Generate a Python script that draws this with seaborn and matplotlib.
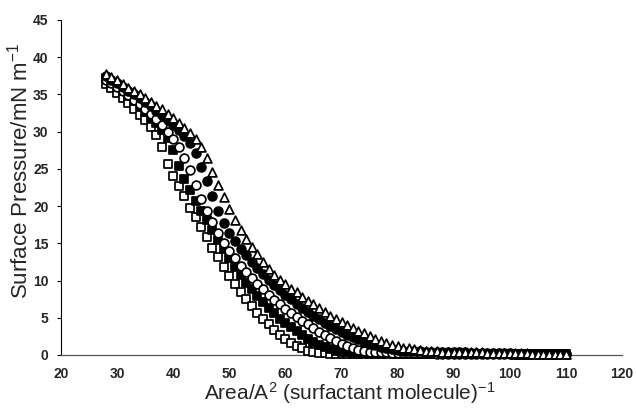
import matplotlib
matplotlib.use("Agg")
import matplotlib.pyplot as plt
import seaborn as sns
import pandas as pd

# ---- data ----
area = [28, 29, 30, 31, 32, 33, 34, 35, 36, 37, 38, 39, 40, 41, 42, 43, 44, 45, 46, 47,
        48, 49, 50, 51, 52, 53, 54, 55, 56, 57, 58, 59, 60, 61, 62, 63, 64, 65, 66, 67,
        68, 69, 70, 71, 72, 73, 74, 75, 76, 77, 78, 79, 80, 81, 82, 83, 84, 85, 86, 87,
        88, 89, 90, 91, 92, 93, 94, 95, 96, 97, 98, 99, 100, 101, 102, 103, 104, 105, 106, 107,
        108, 109, 110]

open_squares = [36.4, 35.8, 35.2, 34.5, 33.8, 33.1, 32.3, 31.5, 30.6, 29.6, 28.0, 25.6, 24.0, 22.7, 21.3, 19.8, 18.5, 17.2, 15.8, 14.4,
                13.1, 11.8, 10.6, 9.5, 8.5, 7.5, 6.6, 5.7, 4.9, 4.1, 3.4, 2.7, 2.1, 1.6, 1.2, 0.9, 0.6, 0.4, 0.3, 0.25,
                0.2, 0.2, 0.2, 0.2, 0.2, 0.2, 0.15, 0.15, 0.15, 0.15, 0.15, 0.15, 0.15, 0.15, 0.1, 0.1, 0.1, 0.1, 0.1, 0.1,
                0.1, 0.1, 0.1, 0.1, 0.1, 0.1, 0.1, 0.1, 0.1, 0.1, 0.1, 0.1, 0.1, 0.05, 0.05, 0.05, 0.05, 0.05, 0.05, 0.05,
                0.05, 0.05, 0.05]

filled_squares = [37.2, 36.6, 36.0, 35.4, 34.8, 34.1, 33.4, 32.7, 31.9, 31.1, 30.2, 29.1, 27.6, 25.4, 23.6, 22.1, 20.7, 19.4, 18.1, 16.8,
                  15.5, 14.2, 13.0, 11.8, 10.7, 9.7, 8.8, 7.9, 7.1, 6.3, 5.6, 4.9, 4.3, 3.7, 3.2, 2.7, 2.2, 1.8, 1.4, 1.1,
                  0.8, 0.6, 0.45, 0.35, 0.3, 0.3, 0.3, 0.3, 0.25, 0.25, 0.25, 0.25, 0.25, 0.2, 0.2, 0.2, 0.2, 0.2, 0.2, 0.2,
                  0.2, 0.2, 0.15, 0.15, 0.15, 0.15, 0.15, 0.15, 0.15, 0.15, 0.15, 0.15, 0.1, 0.1, 0.1, 0.1, 0.1, 0.1, 0.1, 0.1,
                  0.1, 0.1, 0.1]

open_circles = [37.0, 36.5, 36.0, 35.4, 34.9, 34.3, 33.7, 33.1, 32.4, 31.7, 30.9, 30.0, 29.0, 27.9, 26.5, 24.8, 22.8, 21.0, 19.3, 17.8,
                16.4, 15.1, 14.0, 13.0, 12.0, 11.1, 10.3, 9.5, 8.8, 8.1, 7.4, 6.8, 6.2, 5.6, 5.1, 4.6, 4.1, 3.6, 3.1, 2.7,
                2.3, 1.9, 1.5, 1.2, 0.9, 0.7, 0.55, 0.45, 0.4, 0.35, 0.35, 0.3, 0.3, 0.3, 0.3, 0.25, 0.25, 0.25, 0.25, 0.2,
                0.2, 0.2, 0.2, 0.2, 0.2, 0.2, 0.15, 0.15, 0.15, 0.15, 0.15, 0.15, 0.1, 0.1, 0.1, 0.1, 0.1, 0.1, 0.1, 0.1,
                0.1, 0.1, 0.1]

filled_circles = [37.5, 37.0, 36.5, 36.0, 35.5, 35.0, 34.5, 34.0, 33.4, 32.8, 32.2, 31.6, 30.9, 30.2, 29.4, 28.5, 27.2, 25.3, 23.4, 21.4,
                  19.4, 17.7, 16.4, 15.3, 14.3, 13.4, 12.5, 11.7, 10.9, 10.1, 9.4, 8.7, 8.1, 7.5, 6.9, 6.3, 5.8, 5.3, 4.8, 4.3,
                  3.9, 3.5, 3.1, 2.7, 2.4, 2.1, 1.8, 1.5, 1.3, 1.1, 0.9, 0.8, 0.7, 0.6, 0.55, 0.5, 0.5, 0.45, 0.45, 0.4,
                  0.4, 0.4, 0.35, 0.35, 0.35, 0.3, 0.3, 0.3, 0.3, 0.25, 0.25, 0.25, 0.25, 0.2, 0.2, 0.2, 0.2, 0.2, 0.15, 0.15,
                  0.15, 0.15, 0.15]

triangles = [37.8, 37.3, 36.9, 36.4, 35.9, 35.5, 35.0, 34.5, 34.0, 33.5, 33.0, 32.4, 31.8, 31.2, 30.5, 29.8, 29.0, 27.9, 26.5, 24.6,
             22.9, 21.2, 19.6, 18.1, 16.8, 15.6, 14.5, 13.5, 12.5, 11.6, 10.8, 10.1, 9.5, 8.9, 8.4, 7.8, 7.3, 6.8, 6.3, 5.8,
             5.3, 4.9, 4.4, 4.0, 3.6, 3.2, 2.9, 2.5, 2.2, 1.9, 1.6, 1.4, 1.2, 1.0, 0.9, 0.8, 0.7, 0.6, 0.5, 0.5,
             0.45, 0.45, 0.4, 0.4, 0.4, 0.35, 0.35, 0.35, 0.3, 0.3, 0.3, 0.3, 0.25, 0.25, 0.25, 0.25, 0.2, 0.2, 0.2, 0.2,
             0.2, 0.2, 0.2]

x_ticks = [20, 30, 40, 50, 60, 70, 80, 90, 100, 110, 120]
y_ticks = [0, 5, 10, 15, 20, 25, 30, 35, 40, 45]

# ---- style ----
sns.set_style("white")
plt.rcParams["font.family"] = ["Liberation Sans", "DejaVu Sans"]
plt.rcParams["mathtext.fontset"] = "custom"
plt.rcParams["mathtext.rm"] = "Liberation Sans"
plt.rcParams["mathtext.it"] = "Liberation Sans"

fig = plt.figure(figsize=(6.36, 4.09), dpi=100)
ax = fig.add_axes([61 / 636, 1 - 355 / 409, (622 - 61) / 636, (355 - 20) / 409])

series = [
    (open_squares, "s", "white"),
    (filled_squares, "s", "black"),
    (open_circles, "o", "white"),
    (filled_circles, "o", "black"),
    (triangles, "^", "white"),
]
for vals, mk, fc in series:
    df = pd.DataFrame({"area": area, "pressure": vals})
    sns.scatterplot(data=df, x="area", y="pressure", marker=mk, s=40,
                    color=fc, edgecolor="black", linewidth=1.25,
                    ax=ax, clip_on=False, zorder=3, legend=False)

ax.set_xlim(20, 120)
ax.set_ylim(0, 45)
ax.set_xticks(x_ticks)
ax.set_yticks(y_ticks)
ax.set_xticklabels([str(v) for v in x_ticks], fontweight="bold", fontsize=10)
ax.set_yticklabels([str(v) for v in y_ticks], fontweight="bold", fontsize=10)
ax.tick_params(axis="y", length=3, width=0.8, color="black", pad=6, left=True)
ax.tick_params(axis="x", length=0, pad=9)

for side in ["top", "right"]:
    ax.spines[side].set_visible(False)
ax.spines["left"].set_color("black")
ax.spines["left"].set_linewidth(0.8)
ax.spines["bottom"].set_color("#555555")
ax.spines["bottom"].set_linewidth(0.9)

ax.set_xlabel(r"Area/A$^{2}$ (surfactant molecule)$^{-1}$", fontsize=15, labelpad=-1)
ax.set_ylabel(r"Surface Pressure/mN m$^{-1}$", fontsize=16, labelpad=0.5)
ax.xaxis.label.set_x(0.515)
ax.yaxis.label.set_y(0.55)

fig.savefig("out.png", dpi=100)
